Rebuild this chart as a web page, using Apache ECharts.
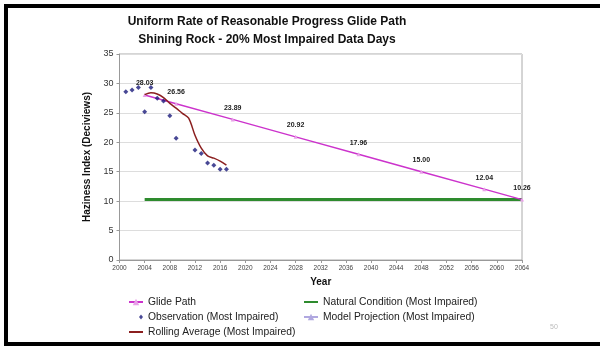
<!DOCTYPE html>
<html lang="en">
<head>
    <meta charset="UTF-8">
    <title>Glide Path</title>
    <script src="https://cdn.jsdelivr.net/npm/echarts@6/dist/echarts.min.js"></script>
    <style>
        html, body { margin: 0; padding: 0; background: #fff; }
        #chart { width: 600px; height: 347px; }
    </style>
</head>
<body>
<div id="chart"></div>
<script type="text/javascript">
    // glide path (labelled points)
    var glideYears = [2004, 2009, 2018, 2028, 2038, 2048, 2058, 2064];
    var glideValues = [28.03, 26.56, 23.89, 20.92, 17.96, 15.00, 12.04, 10.26];

    // natural condition
    var naturalYears = [2004, 2064];
    var naturalValues = [10.26, 10.26];

    // observations
    var obsYears = [2001, 2002, 2003, 2004, 2005, 2006, 2007, 2008, 2009, 2012, 2013, 2014, 2015, 2016, 2017];
    var obsValues = [28.6, 28.9, 29.3, 25.2, 29.3, 27.5, 27.0, 24.5, 20.7, 18.7, 18.1, 16.5, 16.1, 15.4, 15.4];

    // rolling average
    var rollYears = [2004, 2005, 2006, 2007, 2008, 2009, 2010, 2011, 2012, 2013, 2014, 2015, 2016, 2017];
    var rollValues = [28.1, 28.4, 28.2, 27.6, 26.6, 25.8, 24.9, 24.1, 21.2, 19.0, 17.7, 17.3, 16.8, 16.1];

    // model projection (legend only)
    var modelYears = [];
    var modelValues = [];

    var titleLines = ['Uniform Rate of Reasonable Progress Glide Path', 'Shining Rock - 20% Most Impaired Data Days'];

    function pairs(xs, ys) {
        var out = [];
        for (var i = 0; i < xs.length; i++) out.push([xs[i], ys[i]]);
        return out;
    }

    var legendFont = { fontSize: 10.3, color: '#222' };
    // one legend per row so that each entry can sit where the original has it
    function legendRow(name, left, top, w, h, extra) {
        var item = { name: name };
        if (extra) for (var k in extra) item[k] = extra[k];
        return {
            left: left, top: top, itemWidth: w, itemHeight: h, itemGap: 0, padding: 0,
            textStyle: legendFont, data: [item]
        };
    }

    var myChart = echarts.init(document.getElementById('chart'));

    myChart.setOption({
        animation: false,
        textStyle: { fontFamily: 'Liberation Sans, Arial, sans-serif' },
        legend: [
            legendRow('Glide Path', 128, 297, 14, 8),
            legendRow('Observation (Most Impaired)', 139, 312, 4, 5, { icon: 'diamond' }),
            legendRow('Rolling Average (Most Impaired)', 128, 327, 14, 8, { itemStyle: { opacity: 0 } }),
            legendRow('Natural Condition (Most Impaired)', 303, 297, 14, 8, { itemStyle: { opacity: 0 } }),
            legendRow('Model Projection (Most Impaired)', 303, 312, 14, 8)
        ],
        grid: {
            left: 119.5, right: 78, top: 54, bottom: 87,
            show: true, borderColor: '#aaa', borderWidth: 1
        },
        xAxis: {
            type: 'value', min: 2000, max: 2064, interval: 4,
            name: 'Year', nameLocation: 'middle', nameGap: 16,
            nameTextStyle: { fontSize: 10, fontWeight: 'bold', color: '#111' },
            axisLine: { lineStyle: { color: '#999' } },
            axisTick: { show: true, length: 3, lineStyle: { color: '#999' } },
            axisLabel: { fontSize: 6.5, color: '#444', margin: 5, formatter: function (v) { return String(v); } },
            splitLine: { show: false }
        },
        yAxis: {
            type: 'value', min: 0, max: 35, interval: 5,
            name: 'Haziness Index (Deciviews)', nameLocation: 'middle', nameGap: 23,
            nameTextStyle: { fontSize: 10, fontWeight: 'bold', color: '#111' },
            axisLine: { show: true, lineStyle: { color: '#999' } },
            axisTick: { show: true, length: 3, lineStyle: { color: '#999' } },
            axisLabel: { fontSize: 9, color: '#333', margin: 6 },
            splitLine: { lineStyle: { color: '#ddd' } }
        },
        series: [
            {
                name: 'Glide Path', type: 'line', data: pairs(glideYears, glideValues),
                z: 3,
                lineStyle: { color: '#cc33cc', width: 1.5 },
                itemStyle: { color: '#e8a0e8' },
                symbol: 'triangle', symbolSize: 4,
                label: {
                    show: true, position: 'top', distance: 6,
                    fontSize: 7, fontWeight: 'bold', color: '#222',
                    formatter: function (p) { return p.value[1].toFixed(2); }
                }
            },
            {
                name: 'Natural Condition (Most Impaired)', type: 'line', data: pairs(naturalYears, naturalValues),
                z: 2,
                lineStyle: { color: '#2e8b2e', width: 3 },
                itemStyle: { color: '#2e8b2e' },
                symbol: 'none'
            },
            {
                name: 'Observation (Most Impaired)', type: 'scatter', data: pairs(obsYears, obsValues),
                z: 4,
                symbol: 'diamond', symbolSize: 5,
                itemStyle: { color: '#1a1a7a' }
            },
            {
                name: 'Model Projection (Most Impaired)', type: 'line', data: pairs(modelYears, modelValues),
                lineStyle: { color: '#b0a8e0', width: 1.5 },
                itemStyle: { color: '#b0a8e0' },
                symbol: 'triangle', symbolSize: 4
            },
            {
                name: 'Rolling Average (Most Impaired)', type: 'line', data: pairs(rollYears, rollValues),
                z: 5, smooth: 0.3,
                lineStyle: { color: '#8b1f1f', width: 1.5 },
                itemStyle: { color: '#8b1f1f' },
                symbol: 'none'
            }
        ],
        graphic: [
            { type: 'text', x: 267, y: 22, style: { text: titleLines[0], align: 'center', verticalAlign: 'middle', fontSize: 12, fontWeight: 'bold', fill: '#111', fontFamily: 'Liberation Sans, Arial, sans-serif' } },
            { type: 'text', x: 267, y: 40, style: { text: titleLines[1], align: 'center', verticalAlign: 'middle', fontSize: 12, fontWeight: 'bold', fill: '#111', fontFamily: 'Liberation Sans, Arial, sans-serif' } },
            { type: 'rect', shape: { x: 4, y: 4, width: 596, height: 4 }, style: { fill: '#000' } },
            { type: 'rect', shape: { x: 4, y: 4, width: 4, height: 342 }, style: { fill: '#000' } },
            { type: 'rect', shape: { x: 4, y: 342, width: 596, height: 4 }, style: { fill: '#000' } },
            { type: 'text', left: 550, top: 324, style: { text: '50', fontSize: 7, fill: '#bbb' } }
        ]
    });
</script>
</body>
</html>
